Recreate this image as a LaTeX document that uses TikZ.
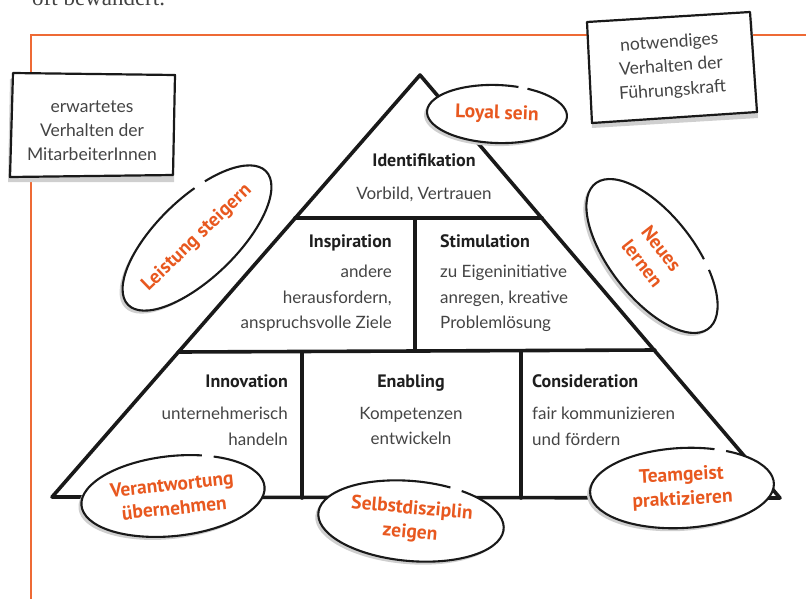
\documentclass[tikz,border=0pt]{standalone}
\usepackage{fontspec}
\setmainfont{Lato}
\newfontfamily\serifx{Liberation Serif}
\newfontfamily\condbold{PT Sans Bold}
\definecolor{frameorange}{HTML}{EE6A35}
\definecolor{txtorange}{HTML}{E8581F}
\definecolor{txtgray}{HTML}{444444}
\definecolor{headblack}{HTML}{1E1E1E}
\definecolor{shadowgray}{HTML}{CFCFCF}
\newcommand\bubble[8]{%
\begin{scope}[shift={(#2-3,#3+3)},rotate=#4]
 \fill[shadowgray] (0,0) ellipse [x radius=#5, y radius=#6];
\end{scope}
\begin{scope}[shift={(#2,#3)},rotate=#4]
 \fill[white] (0,0) ellipse [x radius=#5, y radius=#6];
 \draw[bubline] (#7+4:#5 and #6) arc [start angle=#7+4, end angle=#7+356, x radius=#5, y radius=#6];
 \node[bubtext] (#1) at (0,0) {#8};
\end{scope}}
\begin{document}
\begin{tikzpicture}[x=1pt,y=-1pt,
  pyr/.style={line width=3.6pt, line cap=round, line join=round, draw=black!90},
  body/.style={font=\fontsize{17}{25.5}\selectfont, text=txtgray, inner sep=0pt},
  head/.style={font=\condbold\fontsize{18}{20}\selectfont, text=headblack, inner sep=0pt},
  boxtext/.style={font=\fontsize{17.5}{24}\selectfont, text=txtgray, inner sep=0pt, align=center},
  bubtext/.style={font=\condbold\fontsize{19.5}{24}\selectfont, text=txtorange, align=center, inner sep=0pt, transform shape},
  bubline/.style={line width=2.1pt, draw=black!90},
  boxline/.style={line width=2.2pt, line join=round, draw=black!90},
  frameline/.style={draw=frameorange, line width=2.2pt},
  toptext/.style={font=\serifx\fontsize{23}{23}\selectfont, text=txtgray, inner sep=0pt}]
\useasboundingbox (0,0) rectangle (806,598);
\clip (0,0) rectangle (806,598);
% clipped line of text at the top
\node[toptext, anchor=base west] (topline) at (32,5) {oft bewandert.};
% orange frame
\coordinate (fb) at (31,600);
\coordinate (fc) at (31,35);
\coordinate (fr) at (808,35);
\draw[frameline] (fb) -- (fc) -- (fr);
% left box
\fill[shadowgray] (10,79) -- (175,81) -- (174,182) -- (8,182) -- cycle;
\draw[boxline, fill=white] (13,73) -- (175,75) -- (173,175) -- (10,177) -- cycle;
\node[boxtext] (lefttext) at (92,131) {erwartetes\\Verhalten der\\MitarbeiterInnen};
% right box
\fill[shadowgray] (589,28) -- (752,18) -- (758,118) -- (592,128) -- cycle;
\draw[boxline, fill=white] (587,22) -- (750,12) -- (757,112) -- (592,123) -- cycle;
\node[boxtext, rotate=4] (righttext) at (671,67) {notwendiges\\Verhalten der\\Führungskraft};
% pyramid
\coordinate (apex) at (420,75);
\coordinate (bl) at (52,497);
\coordinate (br) at (780,498);
\coordinate (l1) at (295,218);
\coordinate (r1) at (542,218);
\coordinate (l2) at (178,352);
\coordinate (r2) at (655,350);
\coordinate (m1t) at (415,218);
\coordinate (m1b) at (415,351);
\coordinate (v1t) at (302,352);
\coordinate (v1b) at (302,498);
\coordinate (v2t) at (521,351);
\coordinate (v2b) at (521,498);
\draw[pyr] (bl) -- (apex) -- (br) -- cycle;
\draw[pyr] (l1) -- (r1);
\draw[pyr] (l2) -- (r2);
\draw[pyr] (m1t) -- (m1b);
\draw[pyr] (v1t) -- (v1b);
\draw[pyr] (v2t) -- (v2b);
% texts in the pyramid
\node[head, anchor=base] (ident) at (424,166) {Identifikation};
\node[body, anchor=base] (identb) at (424,199) {Vorbild, Vertrauen};
\node[head, anchor=base east] (insp) at (392,247) {Inspiration};
\node[body, anchor=north east, align=right] (inspb) at (392,265) {andere\\herausfordern,\\anspruchsvolle Ziele};
\node[head, anchor=base west] (stim) at (440,247) {Stimulation};
\node[body, anchor=north west, align=left] (stimb) at (440,265) {zu Eigeninitiative\\anregen, kreative\\Problemlösung};
\node[head, anchor=base east] (innov) at (288,387) {Innovation};
\node[body, anchor=north east, align=right] (innovb) at (288,407) {unternehmerisch\\handeln};
\node[head, anchor=base] (enab) at (411,387) {Enabling};
\node[body, anchor=north, align=center] (enabb) at (411,407) {Kompetenzen\\entwickeln};
\node[head, anchor=base west] (consid) at (532,387) {Consideration};
\node[body, anchor=north west, align=left] (considb) at (532,407) {fair kommunizieren\\und fördern};
% bubbles
\bubble{loyal}{497}{114}{-2}{70}{29}{-69}{Loyal sein}
\bubble{leistung}{197}{238}{44}{96}{40}{-66}{Leistung steigern}
\bubble{neues}{652}{256}{-52}{92}{42}{-64}{Neues\\lernen}
\bubble{verant}{173}{496}{6}{92}{40}{-65}{Verantwortung\\übernehmen}
\bubble{selbst}{411}{521}{-5}{93}{40}{-63}{Selbstdisziplin\\zeigen}
\bubble{team}{682}{488}{3}{92}{40}{-64}{Teamgeist\\praktizieren}
\end{tikzpicture}
\end{document}
